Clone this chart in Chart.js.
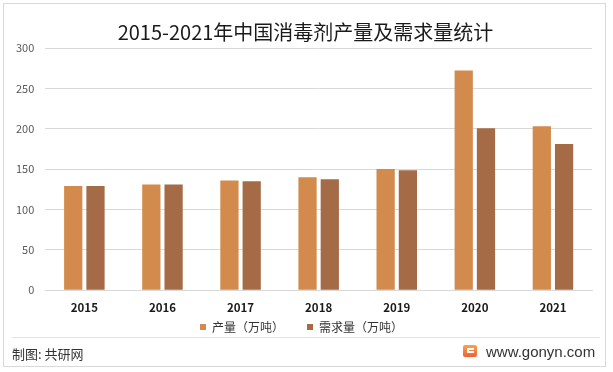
<!DOCTYPE html>
<html>
<head>
<meta charset="utf-8">
<script src="https://cdn.jsdelivr.net/npm/chart.js@4.4.1/dist/chart.umd.min.js"></script>
<style>
    body { margin: 0; background: #fff; }
    #wrap { position: relative; width: 613px; height: 372px; overflow: hidden; }
    #frame { position: absolute; left: 3px; top: 3px; width: 603px; height: 364px; border: 1px solid #d9d9d9; box-sizing: border-box; pointer-events: none; }
    #sep { position: absolute; left: 12px; top: 337px; width: 588px; height: 1px; background: #e3e3e3; }
    .foot { position: absolute; font-family: "Noto Sans CJK SC", "Liberation Sans", sans-serif; color: #333; white-space: nowrap; }
    #source { left: 12px; top: 344px; font-size: 13px; line-height: 20px; }
    #site { left: 486px; top: 341px; font-size: 15px; line-height: 21px; font-family: "Liberation Sans", Arial, sans-serif; }
    #logo { position: absolute; left: 463px; top: 345px; width: 14px; height: 12px; border-radius: 2px; background: linear-gradient(180deg, #f8a64c, #ef5f35); }
    #logo:after { content: ""; position: absolute; left: 4px; top: 3px; width: 7px; height: 5px; border: 2px solid #fff; border-right: none; box-sizing: border-box; }
    #chart-box { position: absolute; left: 0; top: 0; width: 613px; height: 372px; }
</style>
</head>
<body>
<div id="wrap">
    <div id="chart-box"><canvas id="chart"></canvas></div>
    <div id="frame"></div>
    <div id="sep"></div>
    <div class="foot" id="source">制图: 共研网</div>
    <div id="logo"></div>
    <div class="foot" id="site">www.gonyn.com</div>
</div>
<script>
const years = ['2015', '2016', '2017', '2018', '2019', '2020', '2021'];
const production = [129, 131, 136, 140, 150, 272, 203];
const demand = [129, 131, 135, 137.5, 148.5, 200.5, 181];
const yTicks = [0, 50, 100, 150, 200, 250, 300];

Chart.defaults.font.family = '"Noto Sans CJK SC", "Liberation Sans", sans-serif';

// nudge title and bottom legend to where the reference has them
const boxShift = {
    id: 'boxShift',
    afterLayout(chart) {
        const lg = chart.legend;
        if (lg) {
            lg.top -= 28;
            lg.bottom -= 28;
            lg.left += 3;
            lg.right += 3;
        }
        const tb = chart.titleBlock;
        if (tb) {
            tb.left += 7;
            tb.right += 7;
        }
    }
};

new Chart(document.getElementById('chart').getContext('2d'), {
    type: 'bar',
    data: {
        labels: years,
        datasets: [{
            label: '产量（万吨）',
            data: production,
            backgroundColor: '#d28b4d',
            categoryPercentage: 0.57,
            barPercentage: 0.82
        }, {
            label: '需求量（万吨）',
            data: demand,
            backgroundColor: '#a56b47',
            categoryPercentage: 0.57,
            barPercentage: 0.82
        }]
    },
    options: {
        responsive: true,
        maintainAspectRatio: false,
        animation: false,
        layout: {
            padding: { left: 5, right: 21, top: 0, bottom: 1 }
        },
        scales: {
            x: {
                grid: { display: false, drawTicks: false },
                border: { display: true, color: '#d9d9d9' },
                ticks: {
                    padding: 11,
                    color: '#1a1a1a',
                    font: { size: 11.5, weight: 'bold' }
                }
            },
            y: {
                min: 0,
                max: 300,
                afterBuildTicks(axis) {
                    axis.ticks = yTicks.map(v => ({ value: v }));
                },
                grid: { color: '#d9d9d9', drawTicks: false },
                border: { display: false },
                ticks: {
                    padding: 11,
                    color: '#595959',
                    font: { size: 11 }
                }
            }
        },
        plugins: {
            title: {
                display: true,
                text: '2015-2021年中国消毒剂产量及需求量统计',
                color: '#1a1a1a',
                font: { size: 20, weight: 'normal' },
                padding: { top: 20, bottom: 4 }
            },
            legend: {
                position: 'bottom',
                labels: {
                    boxWidth: 6,
                    boxHeight: 6,
                    padding: 23,
                    color: '#333',
                    font: { size: 12 }
                }
            },
            tooltip: { enabled: false }
        }
    },
    plugins: [boxShift]
});
</script>
</body>
</html>
